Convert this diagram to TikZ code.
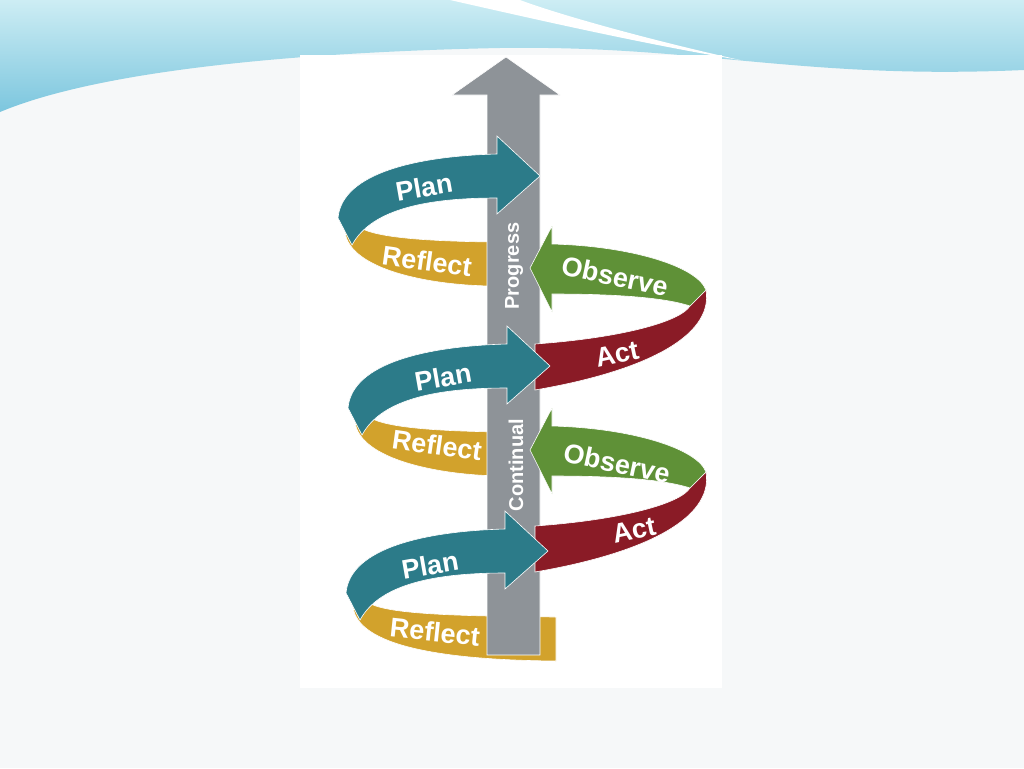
\documentclass[tikz,border=0pt]{standalone}
\usepackage{fontspec}
\setmainfont{Liberation Sans}
\definecolor{bgc}{HTML}{F6F8F9}
\definecolor{seaA}{HTML}{7CC6DE}
\definecolor{seaB}{HTML}{CDEDF4}
\definecolor{planc}{HTML}{2C7B89}
\definecolor{reflc}{HTML}{D2A22C}
\definecolor{obsc}{HTML}{5F9137}
\definecolor{actc}{HTML}{8A1B26}
\definecolor{progc}{HTML}{8E9398}
\begin{document}
\begin{tikzpicture}[x=1pt, y=-1pt,
        lbl/.style={text=white, font=\fontsize{27}{28}\selectfont\bfseries},
        plbl/.style={text=white, rotate=90, font=\fontsize{20}{22}\selectfont\bfseries},
        band/.style={draw=white, line width=0.6pt}
    ]
    \useasboundingbox (0,0) rectangle (1024,768);
    \fill[bgc] (0,0) rectangle (1024,768);

    % top wave
    \shade[top color=seaB, bottom color=seaA] (0,0) -- (1024,0) -- (1024,70)
        .. controls (800,80) and (700,45) .. (500,48)
        .. controls (300,52) and (100,70) .. (0,112) -- cycle;
    \fill[white] (450,0) .. controls (560,25) and (650,45) .. (740,60)
        .. controls (650,40) and (560,15) .. (520,0) -- cycle;
    \fill[white] (300,55) rectangle (722,688);

    % one turn of the cycle
    \newcommand{\turnback}[1]{%
        \fill[reflc, band] (345,232) .. controls (350,270) and (430,285) .. (#1,286)
            -- (#1,242) .. controls (430,241) and (372,238) .. (358,226) -- cycle;}
    \newcommand{\turnfront}{%
        \fill[planc, band] (338,218) .. controls (342,172) and (420,156) .. (497,154)
            -- (497,136) -- (540,176) -- (497,214) -- (497,198)
            .. controls (430,198) and (372,208) .. (352,245) -- cycle;}
    \newcommand{\turnright}{%
        \fill[actc, band] (706,290) .. controls (714,338) and (640,372) .. (535,390)
            -- (535,344) .. controls (620,338) and (680,322) .. (690,306) -- cycle;
        \fill[obsc, band] (530,268) -- (552,226) -- (552,244)
            .. controls (630,246) and (697,266) .. (706,290) -- (690,306)
            .. controls (660,296) and (600,294) .. (552,294) -- (552,312) -- cycle;}

    \turnback{490}
    \begin{scope}[xshift=10pt, yshift=-190pt]\turnback{490}\end{scope}
    \begin{scope}[xshift=8pt, yshift=-375pt]\turnback{548}\end{scope}

    % progress arrow
    \fill[progc, band] (487,655) -- (487,95) -- (452,95) -- (506,57) -- (560,95)
        -- (540,95) -- (540,655) -- cycle;
    \node[plbl] (prog) at (514,266) {Progress};
    \node[plbl] (cont) at (516,465) {Continual};

    \turnright
    \begin{scope}[yshift=-182pt]\turnright\end{scope}
    \turnfront
    \begin{scope}[xshift=10pt, yshift=-190pt]\turnfront\end{scope}
    \begin{scope}[xshift=8pt, yshift=-375pt]\turnfront\end{scope}

    \node[lbl, rotate=10] (plan1) at (424,187) {Plan};
    \node[lbl, rotate=-8] (refl1) at (427,261) {Reflect};
    \node[lbl, rotate=-12] (obs1) at (615,276) {Observe};
    \node[lbl, rotate=12] (act1) at (617,354) {Act};
    \node[lbl, rotate=10] (plan2) at (443,377) {Plan};
    \node[lbl, rotate=-8] (refl2) at (437,445) {Reflect};
    \node[lbl, rotate=-12] (obs2) at (617,463) {Observe};
    \node[lbl, rotate=12] (act2) at (634,530) {Act};
    \node[lbl, rotate=10] (plan3) at (430,565) {Plan};
    \node[lbl, rotate=-6] (refl3) at (435,632) {Reflect};
\end{tikzpicture}
\end{document}
